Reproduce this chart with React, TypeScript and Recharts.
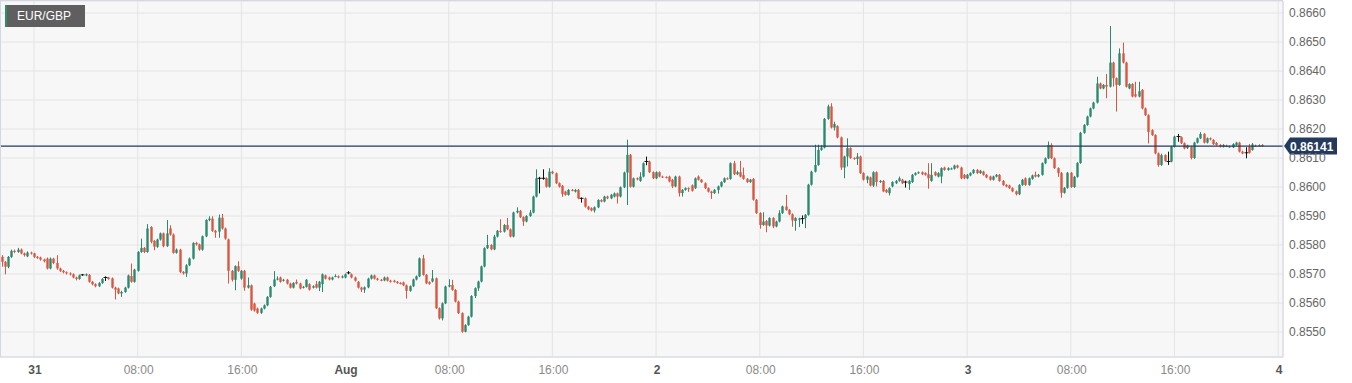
import React from 'react'
import { ComposedChart, Bar, XAxis, YAxis, CartesianGrid, ReferenceLine } from 'recharts'

// 15 minute candles, [open, high, low, close]
const jul30Candles = [
    [0.85759, 0.85765, 0.85725, 0.85742], [0.85742, 0.85745, 0.85699, 0.85725], [0.85725, 0.85762, 0.8572, 0.85759],
    [0.85759, 0.85784, 0.85755, 0.8578], [0.8578, 0.85784, 0.85772, 0.85776], [0.85776, 0.8579, 0.85773, 0.85784],
    [0.85784, 0.85788, 0.85768, 0.85771], [0.85771, 0.85774, 0.8576, 0.85765], [0.85761, 0.85778, 0.85758, 0.85774],
    [0.85774, 0.85777, 0.85767, 0.85771],
]

const jul31Candles = [
    [0.85771, 0.85773, 0.85755, 0.85759], [0.85759, 0.85762, 0.85752, 0.85757], [0.85757, 0.8576, 0.85746, 0.8575],
    [0.8575, 0.85753, 0.8574, 0.85744], [0.85753, 0.85757, 0.85716, 0.85719], [0.85719, 0.85757, 0.85716, 0.85753],
    [0.85753, 0.85756, 0.85734, 0.85738], [0.85738, 0.85765, 0.85715, 0.85719], [0.85719, 0.85722, 0.85707, 0.85711],
    [0.85711, 0.85714, 0.85702, 0.85706], [0.85706, 0.85709, 0.85698, 0.85702], [0.85702, 0.85706, 0.85695, 0.85699],
    [0.85699, 0.85702, 0.85685, 0.85688], [0.85688, 0.85691, 0.85678, 0.85683], [0.85683, 0.85698, 0.8568, 0.85695],
    [0.85697, 0.857, 0.85694, 0.85697], [0.85695, 0.85702, 0.85692, 0.85699], [0.85697, 0.857, 0.8567, 0.85673],
    [0.85673, 0.85676, 0.85661, 0.85665], [0.85665, 0.85668, 0.85654, 0.85658], [0.85658, 0.85672, 0.85655, 0.85669],
    [0.85669, 0.85686, 0.85666, 0.85683], [0.85688, 0.85692, 0.85676, 0.85688], [0.85688, 0.8569, 0.8568, 0.85683],
    [0.85685, 0.85688, 0.8565, 0.85653], [0.85653, 0.85656, 0.85612, 0.85646], [0.8565, 0.85653, 0.8563, 0.85633],
    [0.85633, 0.85642, 0.85621, 0.85638], [0.85638, 0.85656, 0.85635, 0.85653], [0.85653, 0.85698, 0.8565, 0.85695],
    [0.85693, 0.85736, 0.8567, 0.85673], [0.85673, 0.85718, 0.8567, 0.85715], [0.85711, 0.85779, 0.85708, 0.85776],
    [0.85776, 0.85822, 0.85773, 0.8579], [0.8579, 0.85793, 0.85772, 0.85776], [0.85776, 0.85872, 0.85773, 0.85857],
    [0.85862, 0.85865, 0.85806, 0.85811], [0.85814, 0.85817, 0.85782, 0.85794], [0.85794, 0.85822, 0.8579, 0.85819],
    [0.85819, 0.85843, 0.85815, 0.8584], [0.8584, 0.85843, 0.85792, 0.85796], [0.85796, 0.85886, 0.85793, 0.8584],
    [0.85857, 0.85868, 0.85832, 0.85836], [0.85836, 0.8584, 0.8577, 0.85773], [0.85773, 0.85788, 0.8577, 0.85784],
    [0.85784, 0.85787, 0.85703, 0.85707], [0.85707, 0.8571, 0.85698, 0.85702], [0.85702, 0.85734, 0.8569, 0.8573],
    [0.8573, 0.85757, 0.85727, 0.85753], [0.85753, 0.8581, 0.8575, 0.85807], [0.85807, 0.85811, 0.85798, 0.85802],
    [0.85802, 0.85805, 0.8578, 0.85784], [0.85784, 0.85833, 0.8578, 0.8583], [0.8583, 0.85889, 0.85827, 0.85886],
    [0.85886, 0.85899, 0.85882, 0.85891], [0.85891, 0.85899, 0.85845, 0.85849], [0.85849, 0.85852, 0.85825, 0.85843],
    [0.85846, 0.85905, 0.85825, 0.85894], [0.85894, 0.85907, 0.85853, 0.85857], [0.85857, 0.8586, 0.85818, 0.85822],
    [0.85819, 0.85822, 0.85667, 0.85711], [0.85711, 0.85714, 0.85674, 0.8568], [0.8568, 0.8573, 0.85644, 0.85727],
    [0.85727, 0.85744, 0.85707, 0.85711], [0.85684, 0.85714, 0.8568, 0.85711], [0.85711, 0.85714, 0.85642, 0.85653],
    [0.85653, 0.85688, 0.8565, 0.85661], [0.85661, 0.85664, 0.85573, 0.85577], [0.85598, 0.85601, 0.8557, 0.85574],
    [0.85581, 0.85584, 0.85563, 0.85566], [0.85566, 0.85584, 0.85562, 0.85581], [0.85581, 0.85595, 0.85578, 0.85592],
    [0.85592, 0.85624, 0.85589, 0.85621], [0.85621, 0.85659, 0.85618, 0.85656], [0.85658, 0.8571, 0.85655, 0.85681],
    [0.85681, 0.85692, 0.85678, 0.85684], [0.85688, 0.85691, 0.8567, 0.85673], [0.85677, 0.85683, 0.85674, 0.8568],
    [0.8568, 0.85683, 0.85664, 0.85667], [0.85667, 0.8567, 0.8565, 0.85653], [0.85653, 0.85672, 0.8565, 0.85669],
    [0.85673, 0.85681, 0.85664, 0.85667], [0.85667, 0.8567, 0.85647, 0.8565], [0.85653, 0.85659, 0.8565, 0.85656],
    [0.85656, 0.85683, 0.85653, 0.8568], [0.85665, 0.85668, 0.85643, 0.85646], [0.85653, 0.85661, 0.8565, 0.85658],
    [0.85665, 0.85676, 0.8565, 0.85653], [0.85653, 0.85676, 0.85641, 0.85673], [0.85665, 0.85702, 0.85638, 0.85699],
    [0.85695, 0.85698, 0.85681, 0.85684], [0.85688, 0.85691, 0.85678, 0.85681], [0.85681, 0.85691, 0.85678, 0.85688],
    [0.85692, 0.85699, 0.85689, 0.85693], [0.85692, 0.85695, 0.85685, 0.85688], [0.85688, 0.85695, 0.85685, 0.85692],
]

const aug1Candles = [
    [0.85688, 0.85702, 0.85685, 0.85699], [0.85704, 0.8571, 0.85699, 0.85704], [0.85699, 0.85702, 0.85685, 0.85688],
    [0.85688, 0.85691, 0.85674, 0.85677], [0.85673, 0.85676, 0.8565, 0.85653], [0.85653, 0.85656, 0.85638, 0.85646],
    [0.85646, 0.85657, 0.85635, 0.85654], [0.85654, 0.85687, 0.85651, 0.85684], [0.85684, 0.85698, 0.85681, 0.85695],
    [0.85695, 0.85698, 0.85681, 0.85684], [0.85684, 0.85687, 0.85677, 0.8568], [0.8568, 0.85683, 0.85675, 0.85678],
    [0.85678, 0.85691, 0.85675, 0.85688], [0.85688, 0.85691, 0.85674, 0.85677], [0.85677, 0.8568, 0.8567, 0.85673],
    [0.85677, 0.8568, 0.8567, 0.85673], [0.85673, 0.85676, 0.85666, 0.85669], [0.85669, 0.85672, 0.85664, 0.85667],
    [0.85671, 0.85674, 0.85658, 0.85661], [0.85661, 0.85664, 0.85615, 0.85642], [0.85642, 0.85661, 0.85639, 0.85658],
    [0.85658, 0.85684, 0.85655, 0.85681], [0.85681, 0.85695, 0.85678, 0.85692], [0.85692, 0.85757, 0.85689, 0.85754],
    [0.85754, 0.85766, 0.85694, 0.85697], [0.85697, 0.857, 0.85665, 0.85668], [0.85672, 0.85675, 0.85663, 0.85666],
    [0.85674, 0.85714, 0.85671, 0.85685], [0.85685, 0.85688, 0.85579, 0.85582], [0.85582, 0.85585, 0.85543, 0.85547],
    [0.85547, 0.85602, 0.8554, 0.85599], [0.85599, 0.8566, 0.85596, 0.85657], [0.85657, 0.85682, 0.85654, 0.85662],
    [0.85662, 0.8568, 0.85642, 0.85645], [0.85645, 0.85648, 0.85602, 0.85605], [0.85605, 0.85608, 0.85562, 0.85565],
    [0.85565, 0.85568, 0.85497, 0.85501], [0.85501, 0.85527, 0.85499, 0.85524], [0.85524, 0.85556, 0.85521, 0.85553],
    [0.85553, 0.85627, 0.8555, 0.85624], [0.85624, 0.85654, 0.85617, 0.85651], [0.85651, 0.85677, 0.85642, 0.85674],
    [0.85674, 0.85729, 0.85671, 0.85726], [0.85726, 0.85792, 0.85723, 0.85789], [0.85789, 0.85835, 0.85786, 0.858],
    [0.858, 0.85803, 0.85782, 0.85785], [0.85785, 0.85835, 0.85782, 0.85829], [0.85829, 0.85852, 0.85826, 0.85849],
    [0.85849, 0.85889, 0.85842, 0.85845], [0.85846, 0.85872, 0.85843, 0.85869], [0.85869, 0.85893, 0.85851, 0.85854],
    [0.85854, 0.85857, 0.85826, 0.85829], [0.85829, 0.85915, 0.85826, 0.85912], [0.85912, 0.8593, 0.85909, 0.85918],
    [0.85918, 0.85921, 0.85893, 0.85896], [0.85896, 0.85899, 0.85866, 0.85881], [0.85881, 0.85903, 0.85878, 0.859],
    [0.859, 0.85921, 0.85897, 0.85912], [0.85912, 0.8597, 0.85909, 0.85967], [0.85967, 0.86061, 0.85964, 0.8603],
    [0.8603, 0.86035, 0.85978, 0.8603], [0.8603, 0.86061, 0.86025, 0.8603], [0.8603, 0.86033, 0.85998, 0.86001],
    [0.86001, 0.86065, 0.85998, 0.86053], [0.86053, 0.86056, 0.86044, 0.86047], [0.86047, 0.8605, 0.8601, 0.86013],
    [0.86013, 0.86016, 0.85998, 0.86001], [0.86004, 0.86007, 0.85966, 0.85976], [0.85984, 0.85987, 0.8597, 0.85973],
    [0.85973, 0.85993, 0.8597, 0.8599], [0.8599, 0.85993, 0.85985, 0.85988], [0.85984, 0.85993, 0.85981, 0.8599],
    [0.8599, 0.85993, 0.85958, 0.85961], [0.85961, 0.85964, 0.85946, 0.85961], [0.85961, 0.85964, 0.85929, 0.85932],
    [0.85932, 0.85935, 0.8592, 0.85923], [0.85927, 0.8593, 0.85916, 0.85919], [0.85919, 0.85933, 0.85912, 0.8593],
    [0.8593, 0.85958, 0.85927, 0.85955], [0.85955, 0.85958, 0.85947, 0.8595], [0.8595, 0.8597, 0.85947, 0.85967],
    [0.85967, 0.8597, 0.85958, 0.85961], [0.85961, 0.85976, 0.85958, 0.85973], [0.85967, 0.85981, 0.85964, 0.85978],
    [0.85978, 0.85981, 0.85943, 0.85967], [0.85967, 0.86002, 0.85964, 0.85999], [0.85999, 0.86053, 0.85996, 0.8605],
    [0.8605, 0.86163, 0.85938, 0.86111], [0.86111, 0.86114, 0.85998, 0.86001], [0.86001, 0.86033, 0.85998, 0.8603],
    [0.8603, 0.86033, 0.86023, 0.86026], [0.86021, 0.86051, 0.86018, 0.86036], [0.86036, 0.86085, 0.86033, 0.86082],
    [0.86088, 0.86105, 0.86075, 0.86088], [0.86088, 0.86091, 0.86048, 0.86051], [0.86051, 0.86054, 0.86027, 0.8603],
]

const aug2Candles = [
    [0.8603, 0.86054, 0.86027, 0.86051], [0.86051, 0.86054, 0.86033, 0.86036], [0.86036, 0.86039, 0.86031, 0.86034],
    [0.86034, 0.86037, 0.8603, 0.86033], [0.86036, 0.86039, 0.86016, 0.86019], [0.86025, 0.86028, 0.85996, 0.86002],
    [0.86002, 0.86039, 0.85999, 0.86036], [0.86036, 0.86039, 0.85967, 0.85979], [0.85979, 0.85993, 0.85967, 0.8599],
    [0.8599, 0.85999, 0.85987, 0.85996], [0.85996, 0.85999, 0.85983, 0.85993], [0.86006, 0.86009, 0.85984, 0.85987],
    [0.85996, 0.86033, 0.85993, 0.8603], [0.86036, 0.8604, 0.86022, 0.86025], [0.86025, 0.86028, 0.86014, 0.86017],
    [0.86013, 0.86016, 0.85993, 0.85996], [0.85996, 0.85999, 0.85981, 0.85984], [0.85984, 0.85987, 0.85959, 0.85979],
    [0.85979, 0.85993, 0.85976, 0.8599], [0.8599, 0.86005, 0.85977, 0.86002], [0.86002, 0.8602, 0.85999, 0.86017],
    [0.86017, 0.86033, 0.86014, 0.8603], [0.8603, 0.86033, 0.86025, 0.86028], [0.86028, 0.86085, 0.86025, 0.86082],
    [0.86082, 0.8609, 0.86041, 0.86044], [0.86044, 0.86056, 0.86041, 0.86051], [0.86051, 0.8609, 0.86033, 0.86036],
    [0.86041, 0.86067, 0.86025, 0.86028], [0.86028, 0.86031, 0.86014, 0.86017], [0.86017, 0.86028, 0.86014, 0.86025],
    [0.86028, 0.86031, 0.85953, 0.85956], [0.85956, 0.85959, 0.85907, 0.8591], [0.8591, 0.85913, 0.85856, 0.85869],
    [0.85869, 0.85913, 0.85866, 0.85881], [0.85883, 0.85886, 0.85844, 0.85867], [0.85867, 0.85896, 0.85864, 0.85893],
    [0.85893, 0.85896, 0.85858, 0.85864], [0.85864, 0.85884, 0.85861, 0.85881], [0.85881, 0.8592, 0.85878, 0.8591],
    [0.8591, 0.85936, 0.85907, 0.85933], [0.85933, 0.85973, 0.85918, 0.85921], [0.85921, 0.85924, 0.85903, 0.85906],
    [0.85906, 0.85909, 0.85863, 0.85885], [0.85883, 0.85896, 0.85849, 0.85893], [0.85887, 0.85894, 0.85862, 0.85891],
    [0.85891, 0.85902, 0.85873, 0.85891], [0.85893, 0.85907, 0.85858, 0.85904], [0.85904, 0.86011, 0.85901, 0.86008],
    [0.86008, 0.86056, 0.86005, 0.86053], [0.86053, 0.86146, 0.8605, 0.86076], [0.86076, 0.86146, 0.86073, 0.86128],
    [0.86128, 0.86145, 0.86125, 0.86136], [0.86136, 0.86238, 0.86133, 0.86235], [0.86235, 0.86284, 0.86232, 0.86278],
    [0.86278, 0.86289, 0.86202, 0.86205], [0.86205, 0.86225, 0.86195, 0.86217], [0.8621, 0.86213, 0.86168, 0.86171],
    [0.86171, 0.86174, 0.86059, 0.86067], [0.86067, 0.86108, 0.8603, 0.86105], [0.86105, 0.86168, 0.86071, 0.86134],
    [0.86134, 0.86137, 0.86097, 0.861], [0.861, 0.86103, 0.86094, 0.86097], [0.86097, 0.86117, 0.86076, 0.86105],
    [0.86105, 0.86108, 0.86045, 0.86048], [0.86048, 0.86051, 0.86022, 0.86025], [0.86025, 0.86039, 0.86013, 0.86036],
    [0.86033, 0.86036, 0.86002, 0.86005], [0.86005, 0.86054, 0.86, 0.86051], [0.86051, 0.86054, 0.86002, 0.86017],
    [0.86017, 0.86024, 0.86014, 0.86021], [0.86021, 0.86024, 0.85982, 0.85985], [0.8599, 0.85993, 0.85979, 0.85982],
    [0.85979, 0.85999, 0.85971, 0.85996], [0.86002, 0.8602, 0.85999, 0.86017], [0.86013, 0.86024, 0.8601, 0.86021],
    [0.86021, 0.86036, 0.86018, 0.8603], [0.86025, 0.86028, 0.8601, 0.86013], [0.86017, 0.86022, 0.85998, 0.86017],
    [0.8601, 0.86024, 0.8599, 0.86021], [0.86017, 0.86045, 0.86014, 0.86042], [0.86042, 0.86051, 0.86039, 0.86048],
    [0.86048, 0.86054, 0.86045, 0.86051], [0.86051, 0.86054, 0.86041, 0.86044], [0.86048, 0.86051, 0.86039, 0.86042],
    [0.86044, 0.86082, 0.85994, 0.8603], [0.86021, 0.86082, 0.86018, 0.86042], [0.86051, 0.86054, 0.86037, 0.8604],
    [0.86036, 0.86051, 0.86033, 0.86048], [0.86036, 0.86068, 0.86013, 0.86065], [0.86067, 0.8607, 0.86056, 0.86059],
    [0.86059, 0.86068, 0.86056, 0.86065], [0.86063, 0.86067, 0.8606, 0.86064], [0.86063, 0.86077, 0.8606, 0.86074],
    [0.86074, 0.86077, 0.86064, 0.86067], [0.86067, 0.8607, 0.86027, 0.8603], [0.86042, 0.86045, 0.86027, 0.8603],
]

const aug3Candles = [
    [0.8603, 0.86045, 0.86027, 0.86042], [0.8604, 0.86051, 0.86037, 0.86048], [0.86048, 0.86062, 0.86045, 0.86059],
    [0.86059, 0.86062, 0.86045, 0.86048], [0.86048, 0.86059, 0.86045, 0.86056], [0.86053, 0.86056, 0.86039, 0.86042],
    [0.86042, 0.86045, 0.8603, 0.86033], [0.86036, 0.86039, 0.86022, 0.86025], [0.86025, 0.86039, 0.86022, 0.86036],
    [0.86036, 0.86045, 0.86033, 0.86042], [0.86042, 0.86045, 0.86018, 0.86021], [0.86021, 0.86024, 0.86004, 0.86007],
    [0.86007, 0.8601, 0.85999, 0.86002], [0.86005, 0.86008, 0.85993, 0.85996], [0.85996, 0.85999, 0.85982, 0.85985],
    [0.85985, 0.85988, 0.85971, 0.85975], [0.85975, 0.8601, 0.85972, 0.86007], [0.86007, 0.86028, 0.86004, 0.86025],
    [0.8603, 0.86033, 0.86004, 0.86007], [0.86007, 0.86033, 0.86004, 0.8603], [0.86028, 0.86043, 0.86025, 0.8604],
    [0.86042, 0.86053, 0.86033, 0.86036], [0.86036, 0.86045, 0.86033, 0.86042], [0.86042, 0.86085, 0.86039, 0.86082],
    [0.86082, 0.86102, 0.86079, 0.86099], [0.86099, 0.86157, 0.86096, 0.86145], [0.86145, 0.86151, 0.86096, 0.86099],
    [0.86099, 0.86102, 0.86062, 0.86065], [0.86065, 0.86068, 0.86035, 0.86048], [0.86048, 0.86052, 0.85963, 0.8598],
    [0.8598, 0.86, 0.85977, 0.85997], [0.85997, 0.86052, 0.85994, 0.86049], [0.86049, 0.86052, 0.85997, 0.86],
    [0.86, 0.86038, 0.85997, 0.86035], [0.86035, 0.86086, 0.86032, 0.86083], [0.86083, 0.8619, 0.8608, 0.86187],
    [0.86187, 0.86217, 0.86184, 0.86214], [0.86214, 0.86246, 0.86211, 0.86243], [0.86243, 0.86274, 0.8624, 0.86271],
    [0.86271, 0.86294, 0.86268, 0.86291], [0.86291, 0.8638, 0.86288, 0.86357], [0.86357, 0.8636, 0.86337, 0.8634],
    [0.8634, 0.86355, 0.86337, 0.86352], [0.86352, 0.8639, 0.86306, 0.86346], [0.86346, 0.86555, 0.86343, 0.86429],
    [0.86429, 0.86432, 0.86346, 0.86375], [0.86375, 0.86378, 0.8626, 0.86352], [0.86352, 0.86478, 0.86349, 0.86461],
    [0.86461, 0.86498, 0.86426, 0.86429], [0.86429, 0.86432, 0.86343, 0.86346], [0.8634, 0.86358, 0.86337, 0.86355],
    [0.86355, 0.86358, 0.86309, 0.86312], [0.8632, 0.86363, 0.86309, 0.86312], [0.86312, 0.86363, 0.86309, 0.8633],
    [0.86335, 0.86338, 0.86268, 0.86271], [0.86271, 0.86274, 0.86245, 0.86248], [0.86248, 0.86251, 0.8615, 0.8619],
    [0.86196, 0.86199, 0.86176, 0.86179], [0.86179, 0.86182, 0.86113, 0.86116], [0.86116, 0.86119, 0.8607, 0.86076],
    [0.86076, 0.86115, 0.86073, 0.8611], [0.8611, 0.86113, 0.86087, 0.8609], [0.86088, 0.86122, 0.86076, 0.86088],
    [0.86088, 0.86142, 0.86085, 0.86139], [0.86139, 0.86177, 0.86136, 0.86174], [0.86174, 0.86183, 0.86156, 0.86174],
    [0.86172, 0.86175, 0.86148, 0.86151], [0.86151, 0.86154, 0.8613, 0.86133], [0.86134, 0.86146, 0.86131, 0.86143],
    [0.86139, 0.86142, 0.86095, 0.861], [0.861, 0.86156, 0.86097, 0.86153], [0.86153, 0.86171, 0.8615, 0.86168],
    [0.86168, 0.86189, 0.86165, 0.86183], [0.86183, 0.86186, 0.8615, 0.86153], [0.86153, 0.86171, 0.8615, 0.86168],
    [0.86168, 0.86171, 0.86161, 0.86164], [0.86162, 0.86165, 0.86145, 0.86148], [0.86152, 0.86155, 0.86142, 0.86145],
    [0.86145, 0.86148, 0.86136, 0.86139], [0.86139, 0.86148, 0.86136, 0.86145], [0.86142, 0.86146, 0.86138, 0.86141],
    [0.86139, 0.86143, 0.86136, 0.8614], [0.86137, 0.86151, 0.86134, 0.86148], [0.86145, 0.86156, 0.86142, 0.86153],
    [0.86153, 0.86156, 0.86119, 0.86122], [0.86122, 0.86125, 0.86113, 0.86116], [0.86118, 0.86137, 0.86099, 0.86118],
    [0.86139, 0.86148, 0.86115, 0.86118], [0.86128, 0.86152, 0.86125, 0.86147], [0.86143, 0.86146, 0.8614, 0.86142],
    [0.86143, 0.86147, 0.8614, 0.86144], [0.86145, 0.86148, 0.86138, 0.86141],
]

// x axis: one slot per 15 minutes, first candle is Jul 30 21:30
const xTickSlots = [10, 42, 74, 106, 138, 170, 202, 234, 266, 298, 330, 362, 394]
const xTickLabels = ['31', '08:00', '16:00', 'Aug', '08:00', '16:00', '2', '08:00', '16:00', '3', '08:00', '16:00', '4']
const axisSlots = 396

const yTicks = [0.855, 0.856, 0.857, 0.858, 0.859, 0.86, 0.861, 0.862, 0.863, 0.864, 0.865, 0.866]
const yDomain = [0.854138, 0.866414]

const symbol = 'EUR/GBP'
const lastPrice = 0.86141

const UP = '#2a8a6f'
const DOWN = '#db5640'
const NAVY = '#233a5e'

const candles = [...jul30Candles, ...jul31Candles, ...aug1Candles, ...aug2Candles, ...aug3Candles]
const rows = Array.from({ length: axisSlots }, (_, slot) => {
    const c = candles[slot]
    return c ? { slot, open: c[0], high: c[1], low: c[2], close: c[3] } : { slot }
})

const Candle = (props: any) => {
    const { x, y, width, height, payload } = props
    if (!payload || payload.high == null) return null
    const { open, high, low, close } = payload
    const span = high - low
    const py = (p: number) => (span > 0 ? y + ((high - p) / span) * height : y)
    const cx = Math.round(x + width / 2) + 0.5
    const color = close > open ? UP : close < open ? DOWN : '#111'
    const top = py(Math.max(open, close))
    const bottom = py(Math.min(open, close))
    return (
        <g>
            <line x1={cx} x2={cx} y1={y} y2={y + height} stroke={color} strokeWidth={1} />
            {open === close ? (
                <line x1={cx - 2} x2={cx + 2} y1={top} y2={top} stroke={color} strokeWidth={1} />
            ) : (
                <rect x={cx - 1.2} y={top} width={2.4} height={Math.max(1, bottom - top)} fill={color} />
            )}
        </g>
    )
}

const XTick = (props: any) => {
    const { x, y, payload } = props
    const label = xTickLabels[xTickSlots.indexOf(payload.value)]
    const isDay = !label.includes(':')
    return (
        <text x={x + 1} y={y + 17} textAnchor="middle" fontSize={12}
            fill={isDay ? '#555' : '#8a8a8a'} fontWeight={isDay ? 'bold' : 'normal'}>
            {label}
        </text>
    )
}

const PriceTag = (props: any) => {
    const { viewBox } = props
    if (!viewBox) return null
    const right = viewBox.x + viewBox.width
    const cy = viewBox.y
    const pts = `${right + 1},${cy} ${right + 7},${cy - 8.5} ${right + 54},${cy - 8.5} ${right + 54},${cy + 8.5} ${right + 7},${cy + 8.5}`
    return (
        <g>
            <polygon points={pts} fill={NAVY} />
            <text x={right + 7} y={cy + 4.5} fontSize={12} fontWeight="bold" fill="#fff">{lastPrice.toFixed(5)}</text>
        </g>
    )
}

const App = () => {
    return (
        <div style={{ position: 'absolute', left: 0, top: 0, width: 1352, height: 383, background: '#fff', fontFamily: 'Arial, "Liberation Sans", sans-serif' }}>
            <ComposedChart width={1352} height={383} data={rows} margin={{ top: 1, right: 0, left: 0, bottom: 0 }} barCategoryGap={0}>
                <CartesianGrid stroke="#e4e4e4" fill="#f7f7f7" />
                <XAxis dataKey="slot" type="category" ticks={xTickSlots} interval={0} tick={<XTick />}
                    tickLine={false} tickSize={0} tickMargin={0} axisLine={{ stroke: '#d3d8e4' }} height={26} />
                <YAxis orientation="right" type="number" domain={yDomain} ticks={yTicks} allowDataOverflow width={69}
                    tickLine={false} tickSize={0} tickMargin={6} axisLine={{ stroke: '#d3d8e4' }}
                    tick={{ fill: '#666', fontSize: 12 }} tickFormatter={(v: number) => v.toFixed(4)} />
                <Bar dataKey={(d: any) => (d.high == null ? null : [d.low, d.high])} shape={(p: any) => <Candle {...p} />}
                    isAnimationActive={false} />
                <ReferenceLine y={lastPrice} stroke={NAVY} strokeWidth={1.2} label={(p: any) => <PriceTag {...p} />} />
            </ComposedChart>
            <div style={{ position: 'absolute', left: 0, top: 0, width: 1283, height: 357, borderTop: '1px solid #d3d8e4', borderLeft: '1px solid #d3d8e4', boxSizing: 'border-box', pointerEvents: 'none' }} />
            <div style={{ position: 'absolute', left: 5, top: 5, width: 80, height: 22, boxSizing: 'border-box', background: '#5f5f5f', borderLeft: '2px solid #2e8b6e', color: '#fff', fontSize: 12, lineHeight: '22px', paddingLeft: 10 }}>
                {symbol}
            </div>
        </div>
    )
}

export default App
